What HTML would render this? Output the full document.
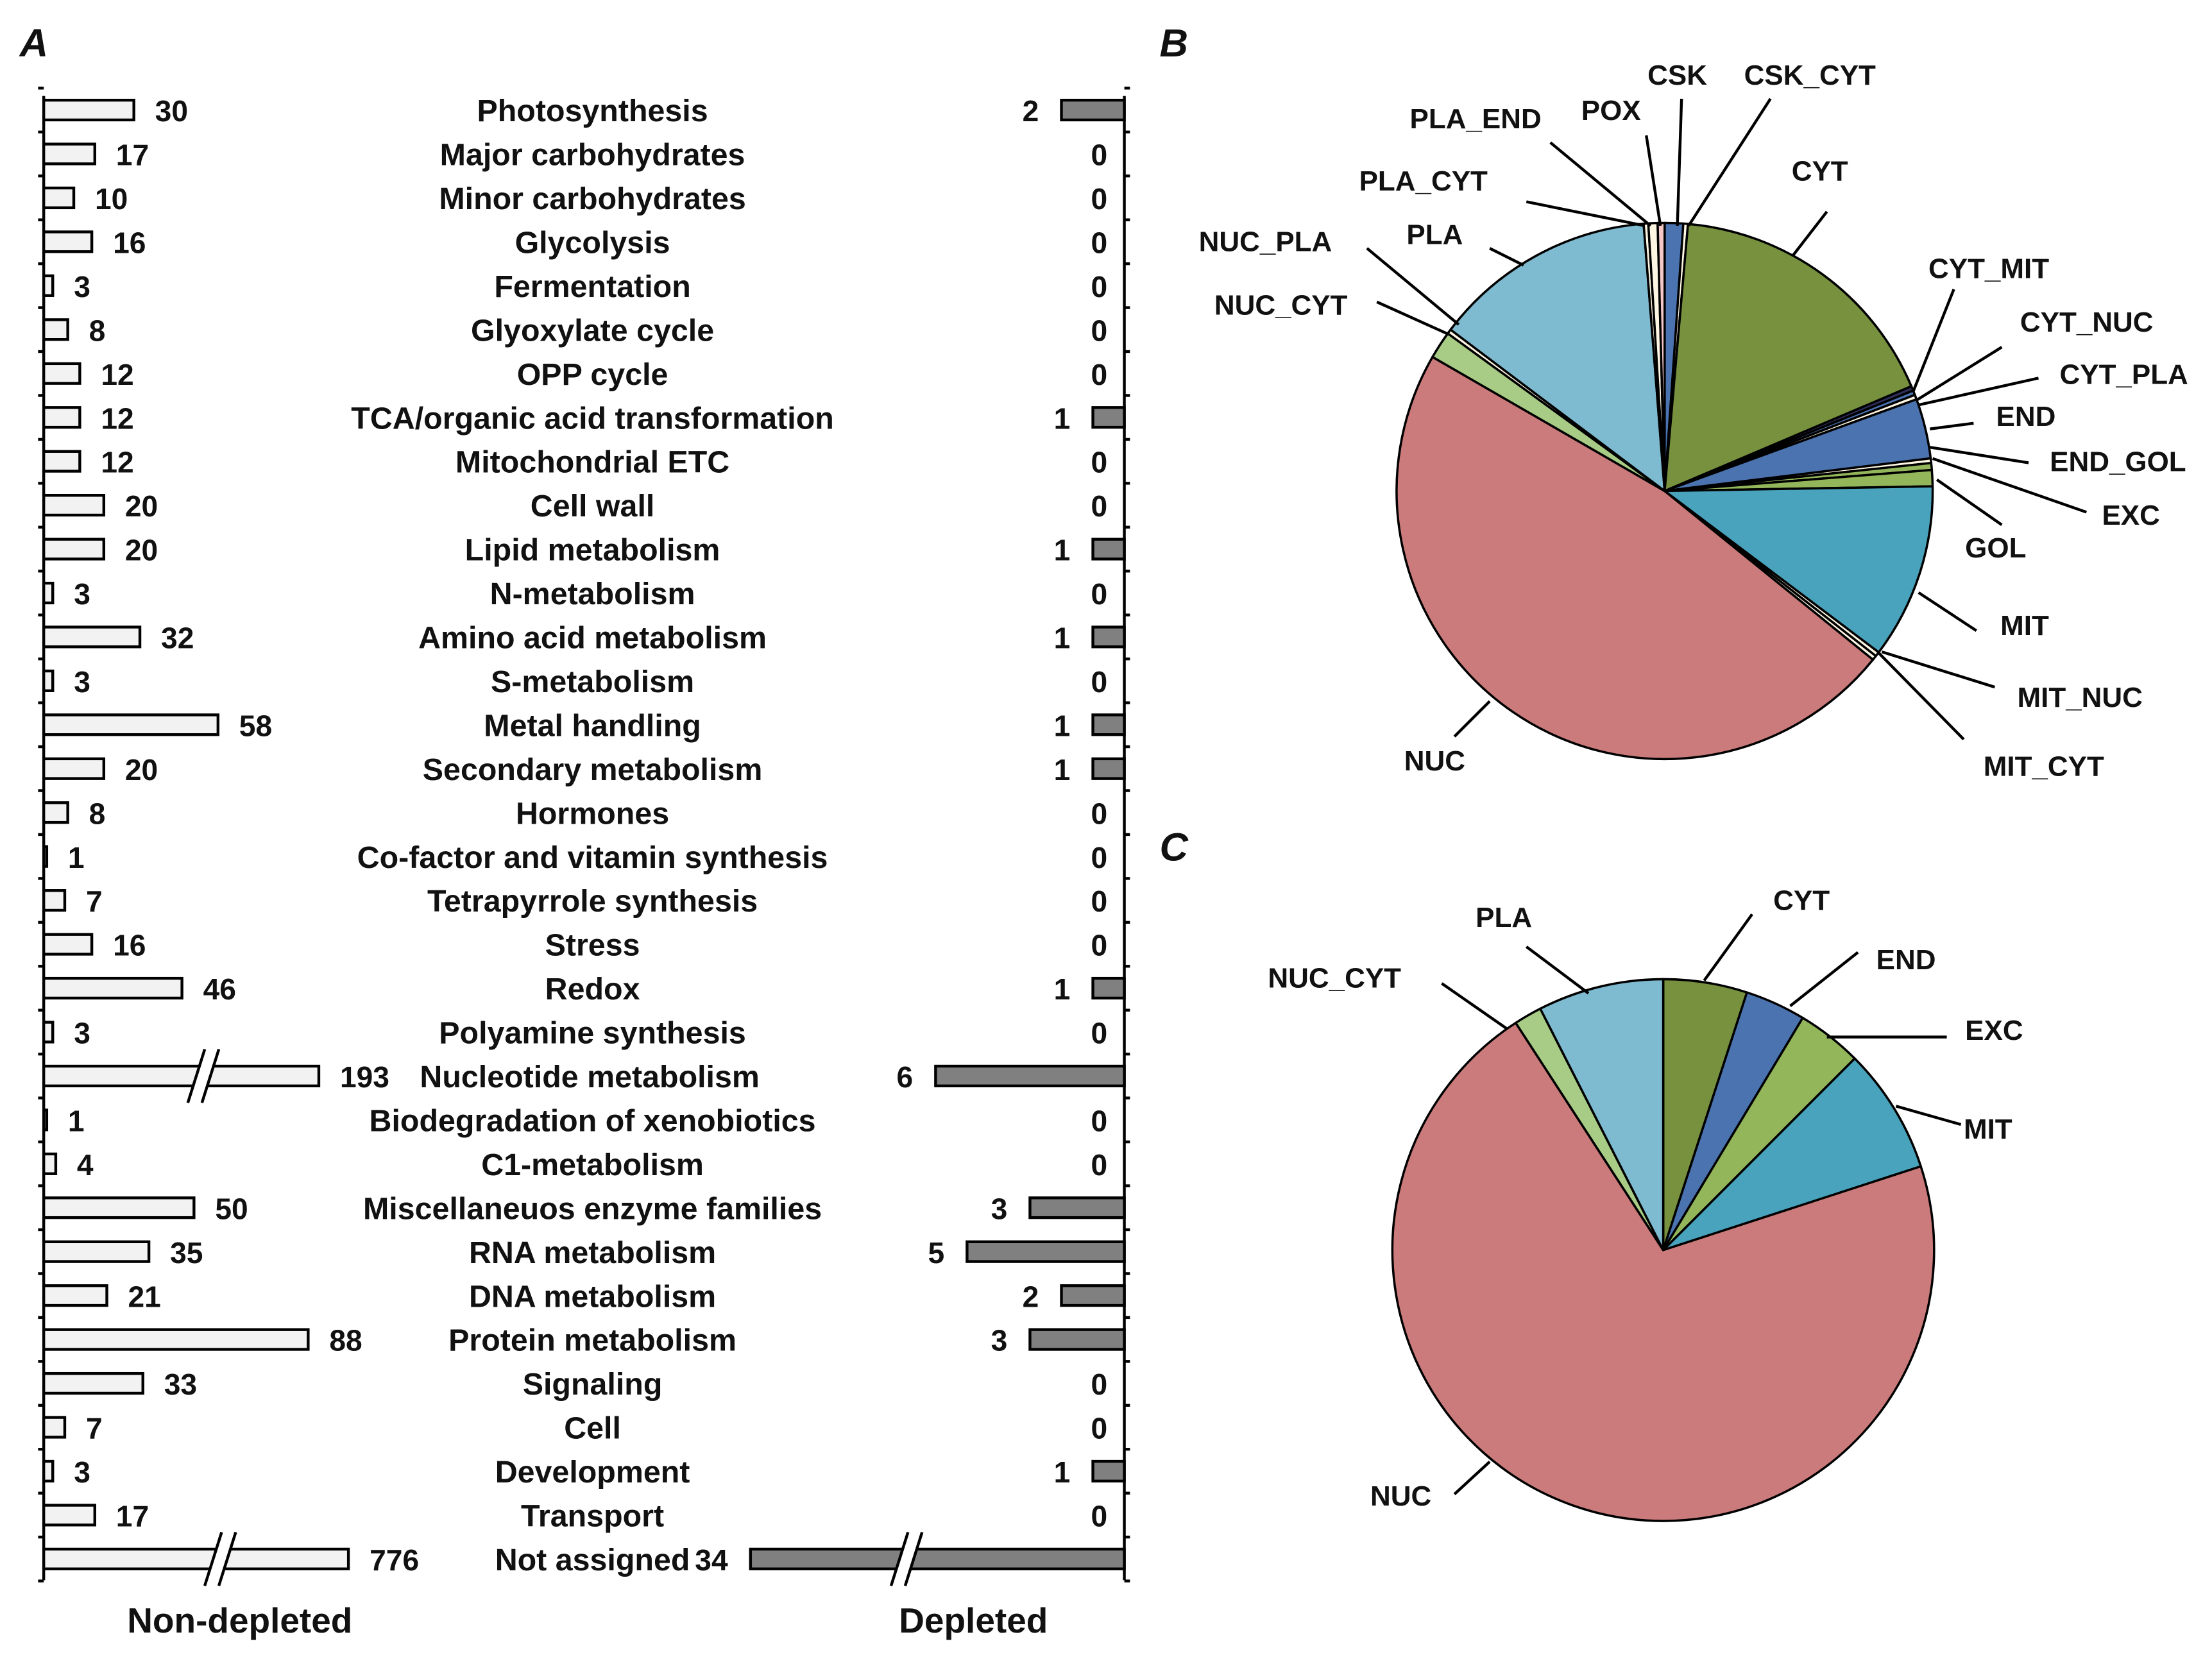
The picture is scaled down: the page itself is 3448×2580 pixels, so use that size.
<!DOCTYPE html>
<html><head><meta charset="utf-8"><style>
html,body{margin:0;padding:0;background:#fff;}
svg{display:block;}
text{font-family:"Liberation Sans",Arial,sans-serif;font-weight:bold;fill:#111;}
</style></head><body>
<svg id="fig" xmlns="http://www.w3.org/2000/svg" width="3448" height="2580" viewBox="0 0 1568 1173" preserveAspectRatio="none">
<text x="14" y="40" font-size="28" font-style="italic">A</text>
<text x="822" y="40" font-size="28" font-style="italic">B</text>
<text x="822" y="610" font-size="28" font-style="italic">C</text>
<g id="barA"></g>
<g id="pieB"></g>
<g id="pieC"></g>
<text x="170" y="1157" font-size="25" text-anchor="middle">Non-depleted</text>
<text x="690" y="1157" font-size="25" text-anchor="middle">Depleted</text>
</svg>
<script>
const categories = ["Photosynthesis","Major carbohydrates","Minor carbohydrates","Glycolysis","Fermentation","Glyoxylate cycle","OPP cycle","TCA/organic acid transformation","Mitochondrial ETC","Cell wall","Lipid metabolism","N-metabolism","Amino acid metabolism","S-metabolism","Metal handling","Secondary metabolism","Hormones","Co-factor and vitamin synthesis","Tetrapyrrole synthesis","Stress","Redox","Polyamine synthesis","Nucleotide metabolism","Biodegradation of xenobiotics","C1-metabolism","Miscellaneuos enzyme families","RNA metabolism","DNA metabolism","Protein metabolism","Signaling","Cell","Development","Transport","Not assigned"];
const nonDepleted = [30,17,10,16,3,8,12,12,12,20,20,3,32,3,58,20,8,1,7,16,46,3,193,1,4,50,35,21,88,33,7,3,17,776];
const depleted = [2,0,0,0,0,0,0,1,0,0,1,0,1,0,1,1,0,0,0,0,1,0,6,0,0,3,5,2,3,0,0,1,0,34];

const pieBLabels = ["CSK","CSK_CYT","CYT","CYT_MIT","CYT_NUC","CYT_PLA","END","END_GOL","EXC","GOL","MIT","MIT_NUC","MIT_CYT","NUC","NUC_CYT","NUC_PLA","PLA","PLA_CYT","PLA_END","POX"];
const pieBValues = [4,1,62,1,1,1,13,1,1.5,3.5,38,1,1,171,6,1,48.5,1,2,1.5];
const pieCLabels = ["CYT","END","EXC","MIT","NUC","NUC_CYT","PLA"];
const pieCValues = [18,13,14,27,255,6,27];

const NS="http://www.w3.org/2000/svg";
function mk(tag,attrs,parent){const e=document.createElementNS(NS,tag);for(const k in attrs)e.setAttribute(k,attrs[k]);parent.appendChild(e);return e;}

// ---- Panel A ----
const gA=document.getElementById('barA');
const axL=31, axR=797, y0=78, rowH=31.12, topY=68, bottomY=1120, bh=14;
const yRow=i=>y0+i*rowH;
const xNon=v=> v>150 ? 195+(v-193)*0.036 : v*2.13;
const xDep=v=> v>15 ? 265 : v*22.3;
let l=mk('line',{x1:axL,y1:topY,x2:axL,y2:bottomY,stroke:'#000','stroke-width':2},gA);


l=mk('line',{x1:axR,y1:topY,x2:axR,y2:bottomY,stroke:'#000','stroke-width':2},gA);


for(let i=0;i<=categories.length;i++){
  const ty=yRow(i)-rowH/2;
  mk('line',{x1:axL-4,y1:ty,x2:axL,y2:ty,stroke:'#000','stroke-width':2},gA);
  mk('line',{x1:axR,y1:ty,x2:axR+4,y2:ty,stroke:'#000','stroke-width':2},gA);
}
function brk(x,yc){
  mk('polygon',{points:`${x-9},${yc+19} ${x+3},${yc-19} ${x+13},${yc-19} ${x+1},${yc+19}`,fill:'#fff'},gA);
  mk('line',{x1:x-9,y1:yc+19,x2:x+3,y2:yc-19,stroke:'#000','stroke-width':2},gA);
  mk('line',{x1:x+1,y1:yc+19,x2:x+13,y2:yc-19,stroke:'#000','stroke-width':2},gA);
}
categories.forEach((c,i)=>{
  const yc=yRow(i);
  const w=xNon(nonDepleted[i]);
  const r=mk('rect',{x:axL,y:yc-bh/2,width:w,height:bh,fill:'#f2f2f2',stroke:'#000','stroke-width':2},gA);
  
  
  if(nonDepleted[i]>150) brk(axL+w*0.57,yc);
  const t=mk('text',{x:axL+w+15,y:yc+8,'font-size':21},gA);
  t.textContent=nonDepleted[i];
  
  
  const wd=xDep(depleted[i]);
  if(depleted[i]>0){
    const r2=mk('rect',{x:axR-wd,y:yc-bh/2,width:wd,height:bh,fill:'#808080',stroke:'#000','stroke-width':2},gA);
    
    
    if(depleted[i]>15) brk(axR-wd*0.59,yc);
  }
  const t2=mk('text',{x:depleted[i]>0?axR-wd-16:785,y:yc+8,'font-size':21,'text-anchor':'end'},gA);
  t2.textContent=depleted[i];
  
  
  let cx=420;
  if(c==="Nucleotide metabolism") cx=418;
  const t3=mk('text',{x:cx,y:yc+8,'font-size':22,'text-anchor':'middle'},gA);
  t3.textContent=c;
  
  
});

// ---- Pies ----
const colors={CSK:'#4a73b0',CSK_CYT:'#fdf6e3',CYT:'#77913f',CYT_MIT:'#2f2f5a',CYT_NUC:'#4a73b0',CYT_PLA:'#fdf6e3',END:'#4a73b0',END_GOL:'#fdf6e3',EXC:'#93b65a',GOL:'#93b65a',MIT:'#4aa3bd',MIT_NUC:'#fdf6e3',MIT_CYT:'#fdf6e3',NUC:'#cb7b7b',NUC_CYT:'#a8cc85',NUC_PLA:'#fdf6e3',PLA:'#7ebbd0',PLA_CYT:'#fdf6e3',PLA_END:'#fdf6e3',POX:'#f5c8c8'};
function pie(g,labels,values,cx,cy,R,ann,prefix){
  const tot=values.reduce((a,b)=>a+b,0);
  let a=0;
  const pt=(ang,rr)=>[cx+rr*Math.sin(ang*Math.PI/180),cy-rr*Math.cos(ang*Math.PI/180)];
  labels.forEach((lb,i)=>{
    const da=values[i]/tot*360, a1=a+da;
    const p0=pt(a,R),p1=pt(a1,R);
    const p=mk('path',{d:`M${cx},${cy} L${p0[0]},${p0[1]} A${R},${R} 0 ${da>180?1:0} 1 ${p1[0]},${p1[1]} Z`,fill:colors[lb],stroke:'#000','stroke-width':1.6,'stroke-linejoin':'round'},g);
    
    
    a=a1;
  });
  ann.forEach(([lb,tx,ty,anchor,lx,ly,ex,ey])=>{
    mk('line',{x1:lx,y1:ly,x2:ex,y2:ey,stroke:'#000','stroke-width':2},g);
    const t=mk('text',{x:tx,y:ty,'font-size':20,'text-anchor':anchor},g);
    t.textContent=lb;
    
    
  });
}
pie(document.getElementById('pieB'),pieBLabels,pieBValues,1180,348,190,[
 ["CSK",1189,60,'middle',1192,70,1189,160],["CSK_CYT",1283,60,'middle',1255,70,1197,160],["POX",1142,85,'middle',1167,96,1177,160],
 ["PLA_END",1046,91,'middle',1099,101,1170,160],["PLA_CYT",1009,135,'middle',1082,143,1166,160],["CYT",1290,128,'middle',1295,150,1271,181],
 ["PLA",1017,173,'middle',1056,176,1080,188],["NUC_PLA",897,178,'middle',969,176,1034,230],["NUC_CYT",908,223,'middle',976,214,1027,237],
 ["CYT_MIT",1367,197,'start',1385,205,1356,278],["CYT_NUC",1432,235,'start',1419,246,1358,284],["CYT_PLA",1460,272,'start',1445,268,1360,287],
 ["END",1415,302,'start',1399,300,1368,304],["END_GOL",1453,334,'start',1438,328,1368,317],["EXC",1490,372,'start',1479,363,1370,325],
 ["GOL",1393,395,'start',1419,372,1373,340],["MIT",1418,450,'start',1401,447,1360,420],["MIT_NUC",1430,501,'start',1414,487,1334,462],
 ["MIT_CYT",1406,550,'start',1392,524,1331,462],["NUC",1017,546,'middle',1031,522,1056,497]
],'pie-b');
pie(document.getElementById('pieC'),pieCLabels,pieCValues,1179,886,192,[
 ["CYT",1277,645,'middle',1242,648,1208,695],["END",1330,687,'start',1317,675,1269,713],["EXC",1393,737,'start',1380,735,1295,735],
 ["MIT",1392,807,'start',1390,797,1344,784],["PLA",1066,657,'middle',1082,671,1126,704],["NUC_CYT",946,700,'middle',1022,697,1068,729],
 ["NUC",993,1067,'middle',1031,1059,1056,1036]
],'pie-c');
</script>
</body></html>
